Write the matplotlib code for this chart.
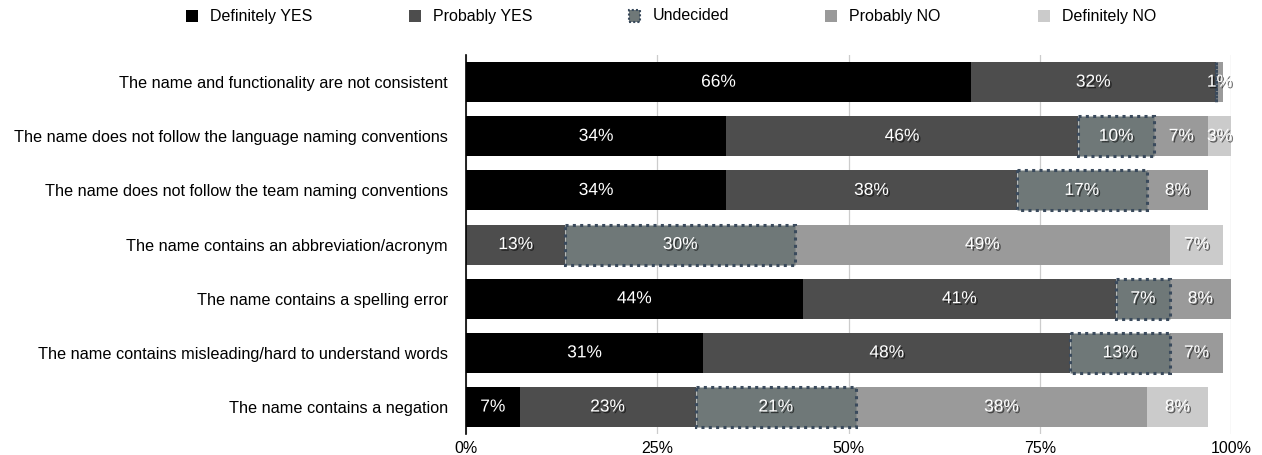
import matplotlib
matplotlib.use("Agg")
import matplotlib.pyplot as plt
import matplotlib.patheffects as pe
from matplotlib.patches import Rectangle
import numpy as np

plt.rcParams['font.family'] = ['Liberation Sans', 'DejaVu Sans']

statements = [
    "The name and functionality are not consistent",
    "The name does not follow the language naming conventions",
    "The name does not follow the team naming conventions",
    "The name contains an abbreviation/acronym",
    "The name contains a spelling error",
    "The name contains misleading/hard to understand words",
    "The name contains a negation",
]
answers = ["Definitely YES", "Probably YES", "Undecided", "Probably NO", "Definitely NO"]

definitely_yes = [66, 34, 34, 0, 44, 31, 7]
probably_yes = [32, 46, 38, 13, 41, 48, 23]
undecided = [0, 10, 17, 30, 7, 13, 21]
probably_no = [1, 7, 8, 49, 8, 7, 38]
definitely_no = [0, 3, 0, 7, 0, 0, 8]

xticks = [0, 25, 50, 75, 100]
xtick_labels = ["0%", "25%", "50%", "75%", "100%"]

colors = ["#000000", "#4d4d4d", "#6f7878", "#9a9a9a", "#cbcbcb"]
undecided_edge = "#3a4a5c"

series = [definitely_yes, probably_yes, undecided, probably_no, definitely_no]

fig = plt.figure(figsize=(12.62, 4.55), dpi=100)
ax = fig.add_axes([0.3693, 0.046, 0.6061, 0.833])

y = np.arange(len(statements))
left = np.zeros(len(statements))
shadow = [pe.SimplePatchShadow(offset=(1.2, -1.2), shadow_rgbFace="black", alpha=0.55), pe.Normal()]

for name, vals, col in zip(answers, series, colors):
    vals = np.array(vals, dtype=float)
    if name == "Undecided":
        bars = ax.barh(y, vals, left=left, height=0.74, color=col,
                       edgecolor=undecided_edge, linewidth=2.2, linestyle=(0, (1, 1.4)), zorder=3)
    else:
        bars = ax.barh(y, vals, left=left, height=0.74, color=col, linewidth=0, zorder=2)
    labels = [f"{int(v)}%" if v > 0 else "" for v in vals]
    ax.bar_label(bars, labels=labels, label_type="center", color="white",
                 fontsize=12.5, path_effects=shadow, zorder=5)
    left += vals

ax.set_xlim(0, 100)
ax.set_ylim(len(statements) - 0.5, -0.5)
ax.set_xticks(xticks)
ax.set_xticklabels(xtick_labels, fontsize=11.5)
ax.set_yticks(y)
ax.set_yticklabels(statements, fontsize=11.7)
ax.tick_params(axis="both", length=0)
ax.tick_params(axis="y", pad=13)
ax.tick_params(axis="x", pad=5)
ax.grid(axis="x", color="#cccccc", linewidth=0.9, zorder=0)
ax.set_axisbelow(True)
for side in ["top", "right", "bottom"]:
    ax.spines[side].set_visible(False)
ax.spines["left"].set_color("black")
ax.spines["left"].set_linewidth(1.2)

# legend row along the top
W, H = 1262.0, 455.0
legend_x = [186, 409, 629, 825, 1038]
for x0, name, col in zip(legend_x, answers, colors):
    if name == "Undecided":
        sq = Rectangle((x0 / W, 1 - 22 / H), 11 / W, 12 / H, transform=fig.transFigure,
                       facecolor=col, edgecolor=undecided_edge, linewidth=1.5,
                       linestyle=(0, (1, 1)))
    else:
        sq = Rectangle((x0 / W, 1 - 22 / H), 12 / W, 12 / H, transform=fig.transFigure,
                       facecolor=col, linewidth=0)
    fig.add_artist(sq)
    fig.text((x0 + 24) / W, 1 - 20.5 / H, name, fontsize=11.5, va="baseline", ha="left")

fig.savefig("out.png", dpi=100)
